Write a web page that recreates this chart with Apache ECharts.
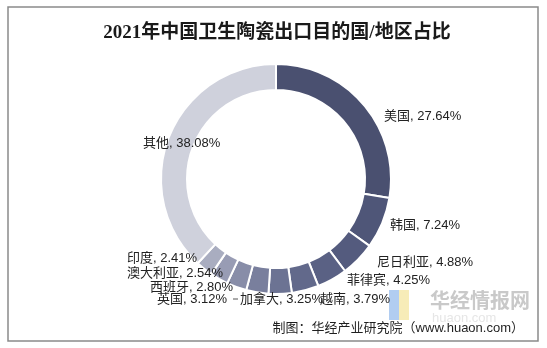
<!DOCTYPE html>
<html>
<head>
<meta charset="utf-8">
<script src="https://cdn.jsdelivr.net/npm/echarts@6/dist/echarts.min.js"></script>
<style>
html,body{margin:0;padding:0;background:#fff;}
#chart{width:547px;height:348px;}
</style>
</head>
<body>
<div id="chart"></div>
<script>
const categories = ['美国','韩国','尼日利亚','菲律宾','越南','加拿大','英国','西班牙','澳大利亚','印度','其他'];
const shares = [27.64, 7.24, 4.88, 4.25, 3.79, 3.25, 3.12, 2.80, 2.54, 2.41, 38.08];
const sliceColors = ['#4a5070','#4f5678','#545b7e','#5a6184','#62698b','#6c7393','#797f9d','#888da8','#989cb4','#a9adc0','#cfd1dc'];
// label anchor (left x, middle y) in pixels, as placed in the reference
const labelLeft = [384, 390, 377, 347, 320, 240, 157, 150, 127, 127, 143];
const labelMid  = [116, 225, 262, 280, 299, 299, 299, 287, 273, 258, 143];

const chart = echarts.init(document.getElementById('chart'), null, {renderer:'canvas'});
const labelFont = '"Liberation Sans", Arial, "Noto Sans CJK SC", sans-serif';
chart.setOption({
  animation: false,
  backgroundColor: '#ffffff',
  title: {
    text: '2021年中国卫生陶瓷出口目的国/地区占比',
    left: 272, top: 19, textAlign: 'center',
    textStyle: {fontFamily: '"Liberation Serif", "Noto Sans CJK SC", serif', fontWeight: 'bold', fontSize: 19, color: '#1a1a1a'}
  },
  graphic: [
    {type:'rect', shape:{x:8, y:7, width:530, height:334}, style:{fill:'none', stroke:'#8a8a8a', lineWidth:1.5}, z:-1},
    {type:'rect', shape:{x:389, y:290, width:10, height:30}, style:{fill:'#a9c8ef', opacity:0.9}},
    {type:'rect', shape:{x:399, y:290, width:10, height:30}, style:{fill:'#f6eab0', opacity:0.9}},
    {type:'text', x:430, y:290, style:{text:'华经情报网', fill:'#c9c9c9', font:'bold 20px "Noto Sans CJK SC", sans-serif'}},
    {type:'text', x:432, y:312, style:{text:'huaon.com', fill:'#e6e6e6', font:'13px "Liberation Sans", sans-serif'}},
    {type:'line', shape:{x1:233, y1:299, x2:238, y2:299}, style:{stroke:'#555', lineWidth:1}},
    {type:'text', x:524, y:328, style:{text:'制图：华经产业研究院（www.huaon.com）', fill:'#1f1f1f', align:'right', verticalAlign:'middle', font:'13px "Liberation Sans", "Noto Sans CJK SC", sans-serif'}}
  ],
  series: [{
    type: 'pie',
    center: [276, 179],
    radius: [89, 115],
    startAngle: 90,
    clockwise: true,
    avoidLabelOverlap: false,
    itemStyle: {borderColor: '#ffffff', borderWidth: 2},
    label: {
      show: true, position: 'outside',
      formatter: p => p.name + ', ' + shares[p.dataIndex].toFixed(2) + '%',
      fontSize: 13, color: '#222', fontFamily: labelFont
    },
    labelLine: {show: false},
    labelLayout: function (params) {
      const i = params.dataIndex;
      return {x: labelLeft[i], y: labelMid[i], align: 'left', verticalAlign: 'middle'};
    },
    emphasis: {disabled: true},
    data: categories.map((c, i) => ({name: c, value: shares[i], itemStyle: {color: sliceColors[i]}}))
  }]
});
</script>
</body>
</html>
